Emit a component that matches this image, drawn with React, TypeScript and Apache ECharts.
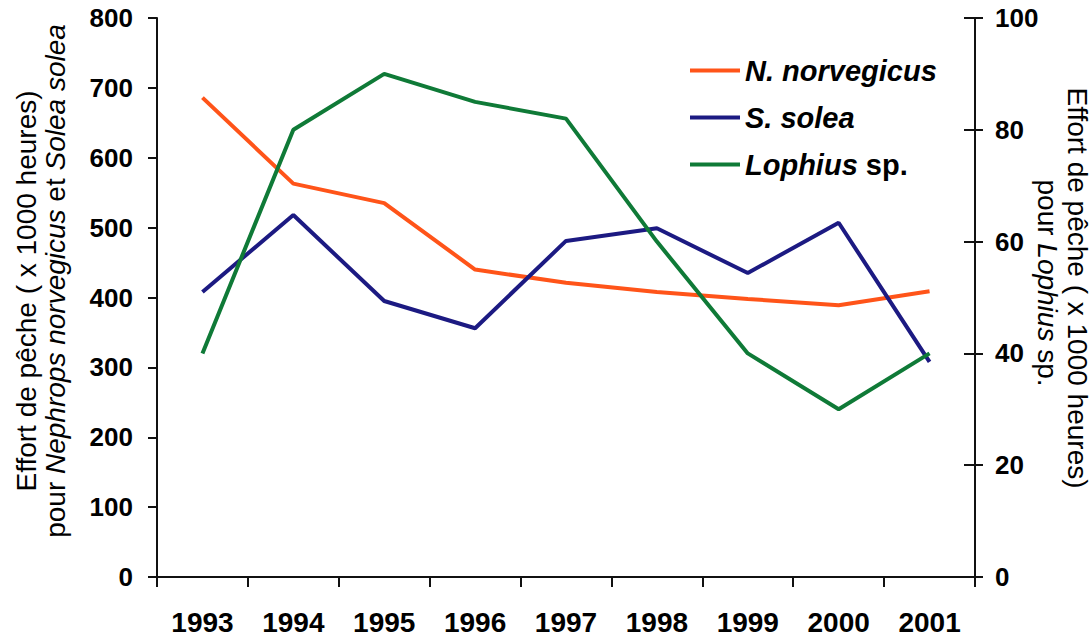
import React, { useEffect, useRef } from "react";
import * as echarts from "echarts";

const years = ["1993", "1994", "1995", "1996", "1997", "1998", "1999", "2000", "2001"];
const nNorvegicus = [686, 563, 535, 440, 421, 408, 398, 389, 409];
const sSolea = [408, 518, 395, 356, 481, 499, 435, 507, 308];
const lophius = [40, 80, 90, 85, 82, 60, 40, 30, 40];

const seriesNames = ["N. norvegicus", "S. solea", "Lophius sp."];
const seriesColors = ["#FF5419", "#1C1A82", "#0F7A37"];

const leftAxis = { min: 0, max: 800, interval: 100 };
const rightAxis = { min: 0, max: 100, interval: 20 };

const SANS = "'Liberation Sans', Arial, Helvetica, sans-serif";

export default function App() {
  const ref = useRef<HTMLDivElement>(null);

  useEffect(() => {
    if (!ref.current) return;
    const chart = echarts.init(ref.current, null, { renderer: "svg" });
    const axisColor = "#111";
    const labelStyle = {
      color: "#000",
      fontFamily: SANS,
      fontWeight: "bold" as const,
      fontSize: 26,
    };
    const titleRich = {
      n: { fontFamily: SANS, fontSize: 28, color: "#000" },
      i: { fontFamily: SANS, fontSize: 28, fontStyle: "italic", color: "#000" },
    };
    chart.setOption({
      animation: false,
      backgroundColor: "#fff",
      grid: { left: 157, right: 117, top: 18, bottom: 66, containLabel: false },
      legend: {
        orient: "vertical",
        left: 685,
        top: 51,
        icon: "rect",
        itemWidth: 50,
        itemHeight: 4,
        itemGap: 18,
        data: seriesNames,
        formatter: (name: string) =>
          name === "Lophius sp." ? "{i|Lophius}{n| sp.}" : "{i|" + name + "}",
        textStyle: {
          padding: [0, 0, 0, 0],
          rich: {
            i: { fontFamily: SANS, fontSize: 29, fontWeight: "bold", fontStyle: "italic", color: "#000", lineHeight: 30 },
            n: { fontFamily: SANS, fontSize: 29, fontWeight: "bold", color: "#000", lineHeight: 30 },
          },
        },
      },
      xAxis: [
        {
          type: "category",
          data: years,
          boundaryGap: true,
          position: "bottom",
          axisLine: { show: true, lineStyle: { color: axisColor, width: 2 } },
          axisTick: { show: true, length: 10, interval: 0, lineStyle: { color: axisColor, width: 2 } },
          axisLabel: { ...labelStyle, fontSize: 28, margin: 31, interval: 0 },
          splitLine: { show: false },
        },
        {
          type: "category",
          data: years,
          boundaryGap: true,
          position: "top",
          axisLine: { show: true, lineStyle: { color: axisColor, width: 2 } },
          axisTick: { show: false },
          axisLabel: { show: false },
          splitLine: { show: false },
        },
      ],
      yAxis: [
        {
          type: "value",
          position: "left",
          ...leftAxis,
          axisLine: { show: true, lineStyle: { color: axisColor, width: 2 } },
          axisTick: { show: true, length: 9, lineStyle: { color: axisColor, width: 2 } },
          axisLabel: { ...labelStyle, margin: 24 },
          splitLine: { show: false },
        },
        {
          type: "value",
          position: "right",
          ...rightAxis,
          axisLine: { show: true, lineStyle: { color: axisColor, width: 2 } },
          axisTick: { show: true, length: 8, lineStyle: { color: axisColor, width: 2 } },
          axisLabel: { ...labelStyle, margin: 20 },
          splitLine: { show: false },
        },
        {
          type: "value",
          position: "right",
          ...rightAxis,
          axisLine: { show: false },
          axisTick: { show: true, inside: true, length: 11, lineStyle: { color: axisColor, width: 2 } },
          axisLabel: { show: false },
          splitLine: { show: false },
        },
      ],
      series: [
        {
          name: seriesNames[0],
          type: "line",
          data: nNorvegicus,
          yAxisIndex: 0,
          symbol: "none",
          lineStyle: { color: seriesColors[0], width: 4 },
          itemStyle: { color: seriesColors[0] },
        },
        {
          name: seriesNames[1],
          type: "line",
          data: sSolea,
          yAxisIndex: 0,
          symbol: "none",
          lineStyle: { color: seriesColors[1], width: 4 },
          itemStyle: { color: seriesColors[1] },
        },
        {
          name: seriesNames[2],
          type: "line",
          data: lophius,
          yAxisIndex: 1,
          symbol: "none",
          lineStyle: { color: seriesColors[2], width: 4 },
          itemStyle: { color: seriesColors[2] },
        },
      ],
      graphic: [
        {
          type: "text",
          x: 26,
          y: 291,
          rotation: Math.PI / 2,
          style: {
            text: "{n|Effort de pêche ( x 1000 heures)}",
            rich: titleRich,
            align: "center",
            verticalAlign: "middle",
          },
        },
        {
          type: "text",
          x: 55,
          y: 281,
          rotation: Math.PI / 2,
          style: {
            text: "{n|pour }{i|Nephrops norvegicus}{n| et }{i|Solea solea}",
            rich: titleRich,
            align: "center",
            verticalAlign: "middle",
          },
        },
        {
          type: "text",
          x: 1077,
          y: 288,
          rotation: -Math.PI / 2,
          style: {
            text: "{n|Effort de pêche ( x 1000 heures)}",
            rich: titleRich,
            align: "center",
            verticalAlign: "middle",
          },
        },
        {
          type: "text",
          x: 1047,
          y: 283,
          rotation: -Math.PI / 2,
          style: {
            text: "{n|pour }{i|Lophius}{n| sp.}",
            rich: titleRich,
            align: "center",
            verticalAlign: "middle",
          },
        },
      ],
    });
    return () => chart.dispose();
  }, []);

  return (
    <div
      ref={ref}
      style={{ position: "fixed", left: 0, top: 0, width: 1092, height: 643, background: "#fff" }}
    />
  );
}
